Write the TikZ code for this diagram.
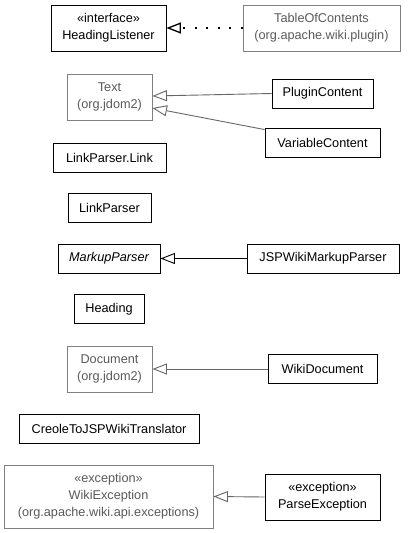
\documentclass[tikz,border=0pt]{standalone}
\usepackage{fontspec}
\setmainfont{Liberation Sans}
\usetikzlibrary{arrows.meta,calc}
\definecolor{boxgray}{HTML}{808080}
\definecolor{txtgray}{HTML}{5A5A5A}
\definecolor{edgegray}{HTML}{666666}
\begin{document}
\begin{tikzpicture}[x=1pt,y=-1pt,
  cls/.style={draw=black,line width=0.9pt,fill=white,text=black,align=center,
    inner sep=0pt,font=\fontsize{12.7}{17}\selectfont},
  ext/.style={cls,draw=boxgray,text=txtgray},
  gen/.style={-{Triangle[open,length=14.5pt,width=11pt,fill=white]},line width=0.9pt},
  gengray/.style={gen,draw=edgegray},
  realize/.style={gen,draw=black,line width=1.3pt,dash pattern=on 2pt off 9.5pt}]
\useasboundingbox (0,0) rectangle (408,533);
\node[cls,minimum width=115pt,minimum height=46pt] (hl) at (108.5,28) {«interface»\\HeadingListener};
\node[ext,minimum width=157pt,minimum height=46pt] (toc) at (321.5,28) {TableOfContents\\(org.apache.wiki.plugin)};
\node[ext,minimum width=85pt,minimum height=46pt] (text) at (109.5,97) {Text\\(org.jdom2)};
\node[cls,minimum width=101pt,minimum height=29pt] (pc) at (322.5,93.5) {PluginContent};
\node[cls,minimum width=115pt,minimum height=29pt] (vc) at (322.5,142.5) {VariableContent};
\node[cls,minimum width=113pt,minimum height=29pt] (lpl) at (109.5,157.5) {LinkParser.Link};
\node[cls,minimum width=83pt,minimum height=29pt] (lp) at (109.5,207.5) {LinkParser};
\node[cls,minimum width=102pt,minimum height=29pt] (mp) at (109,258.5) {\itshape MarkupParser};
\node[cls,minimum width=152pt,minimum height=29pt] (jsp) at (323,258.5) {JSPWikiMarkupParser};
\node[cls,minimum width=70pt,minimum height=29pt] (hd) at (109,309) {Heading};
\node[ext,minimum width=85pt,minimum height=46pt] (doc) at (109.5,369) {Document\\(org.jdom2)};
\node[cls,minimum width=109pt,minimum height=29pt] (wd) at (322.5,369) {WikiDocument};
\node[cls,minimum width=180pt,minimum height=29pt] (cr) at (109,428.5) {CreoleToJSPWikiTranslator};
\node[ext,minimum width=209pt,minimum height=63pt] (we) at (108.5,496.5) {«exception»\\WikiException\\(org.apache.wiki.api.exceptions)};
\node[cls,minimum width=115pt,minimum height=46pt] (pe) at (322.5,497) {«exception»\\ParseException};
\draw[realize] (toc.west) -- (hl.east);
\draw[gengray] (pc.west) -- ($(text.east)+(0,-1)$);
\draw[gengray] ($(vc.north west)+(0,2)$) -- ($(text.east)+(0,11)$);
\draw[gen] (jsp.west) -- (mp.east);
\draw[gengray] (wd.west) -- (doc.east);
\draw[gengray] (pe.west) -- (we.east);
\end{tikzpicture}
\end{document}
